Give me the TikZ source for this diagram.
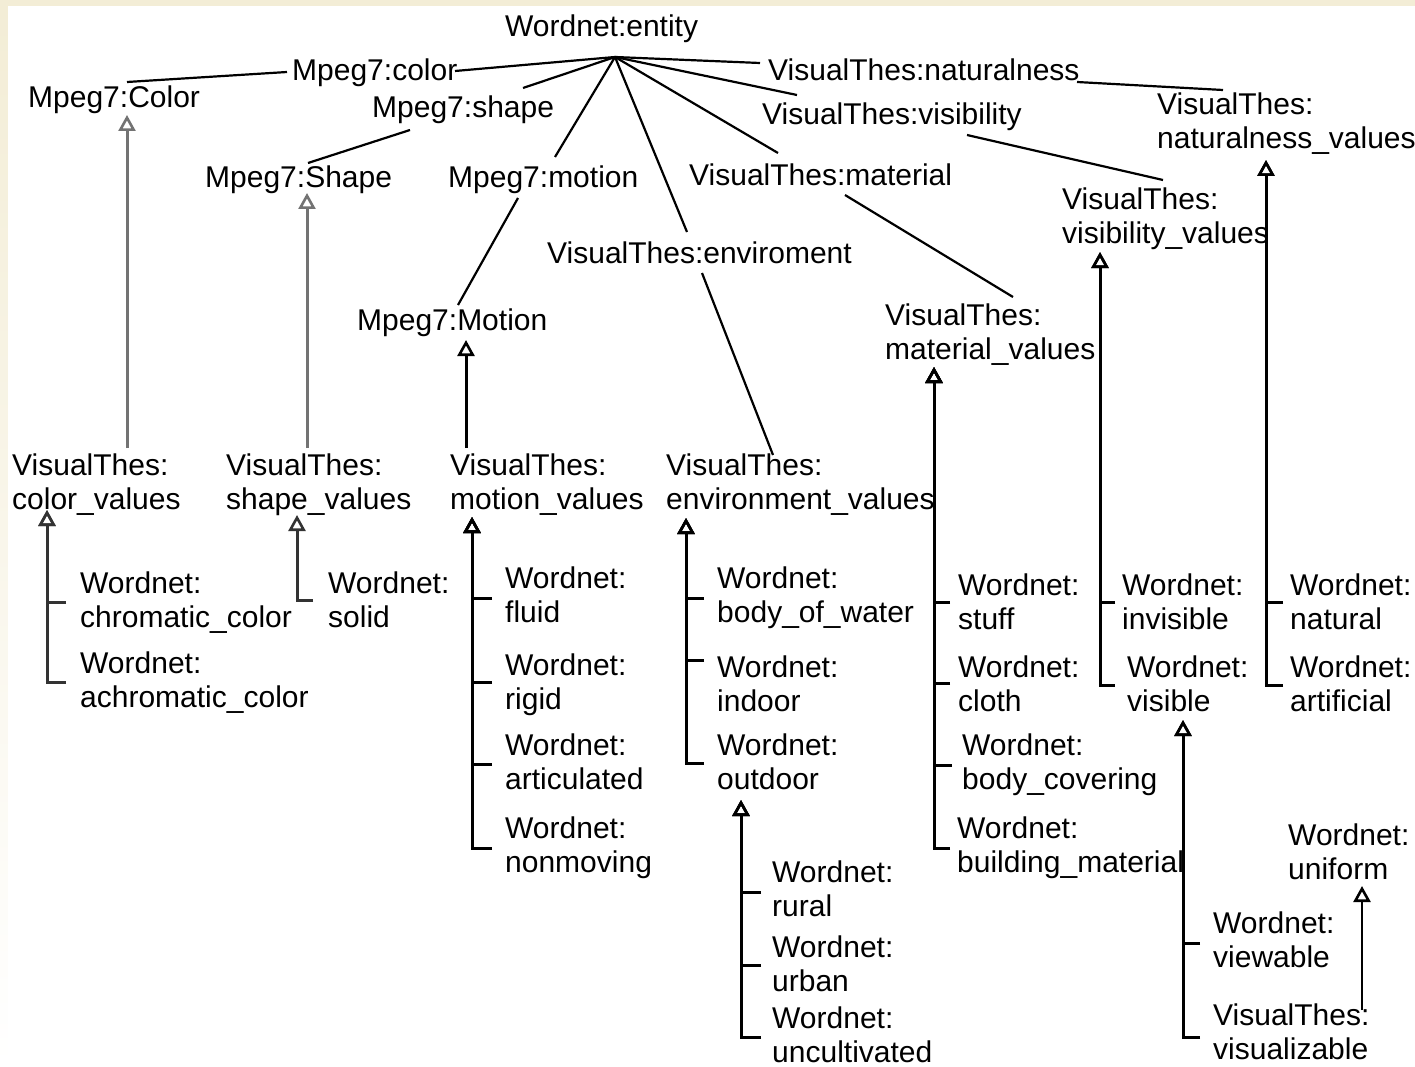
\documentclass[tikz,border=0pt]{standalone}
\usepackage{fontspec}
\setmainfont{Liberation Sans}
\usetikzlibrary{arrows.meta,calc}
\definecolor{bgbeige}{RGB}{243,237,214}
\newcommand{\twoln}[2]{\vtop{\hbox{#1}\hbox{#2}}}
\begin{document}
\begin{tikzpicture}[x=1pt,y=-1pt,
  lbl/.style={anchor=base west, inner sep=0pt, font=\fontsize{30}{34}\selectfont},
  edge/.style={line width=2.2pt, draw=black},
  isa/.style={line width=3pt, -{Triangle[open,length=16pt,width=17pt,line width=2.6pt]}},
  lightisa/.style={isa, draw=black!55},
  darkisa/.style={isa, draw=black!80}]
\useasboundingbox (0,0) rectangle (1415,1067);
\fill[bgbeige] (0,0) rectangle (1415,1067);
\shade[top color=bgbeige, bottom color=white] (0,6) rectangle (8,1067);
\fill[white] (8,6) rectangle (1415,1067);

% upper level
\node[lbl] (entity) at (505,37) {Wordnet:entity};
\node[lbl] (mcolor) at (292,81) {Mpeg7:color};
\node[lbl] (mColor) at (28,108) {Mpeg7:Color};
\node[lbl] (mshape) at (372,118) {Mpeg7:shape};
\node[lbl] (mShape) at (205,188) {Mpeg7:Shape};
\node[lbl] (mmotion) at (448,188) {Mpeg7:motion};
\node[lbl] (mMotion) at (357,330) {Mpeg7:Motion};
\node[lbl] (venv) at (547,263) {VisualThes:enviroment};
\node[lbl] (vmat) at (689,186) {VisualThes:material};
\node[lbl] (vvis) at (762,125) {VisualThes:visibility};
\node[lbl] (vnat) at (768,81) {VisualThes:naturalness};
\node[lbl] (vnatv) at (1157,115) {\twoln{VisualThes:}{naturalness\_values}};
\node[lbl] (vvisv) at (1062,210) {\twoln{VisualThes:}{visibility\_values}};
\node[lbl] (vmatv) at (885,325) {\twoln{VisualThes:}{material\_values}};
\node[lbl] (cv) at (12,475) {\twoln{VisualThes:}{color\_values}};
\node[lbl] (sv) at (226,475) {\twoln{VisualThes:}{shape\_values}};
\node[lbl] (mv) at (450,475) {\twoln{VisualThes:}{motion\_values}};
\node[lbl] (ev) at (666,475) {\twoln{VisualThes:}{environment\_values}};

% lower level
\node[lbl] (chrom) at (80,593) {\twoln{Wordnet:}{chromatic\_color}};
\node[lbl] (achrom) at (80,673) {\twoln{Wordnet:}{achromatic\_color}};
\node[lbl] (solid) at (328,593) {\twoln{Wordnet:}{solid}};
\node[lbl] (fluid) at (505,588) {\twoln{Wordnet:}{fluid}};
\node[lbl] (rigid) at (505,675) {\twoln{Wordnet:}{rigid}};
\node[lbl] (artic) at (505,755) {\twoln{Wordnet:}{articulated}};
\node[lbl] (nonmov) at (505,838) {\twoln{Wordnet:}{nonmoving}};
\node[lbl] (water) at (717,588) {\twoln{Wordnet:}{body\_of\_water}};
\node[lbl] (indoor) at (717,677) {\twoln{Wordnet:}{indoor}};
\node[lbl] (outdoor) at (717,755) {\twoln{Wordnet:}{outdoor}};
\node[lbl] (rural) at (772,882) {\twoln{Wordnet:}{rural}};
\node[lbl] (urban) at (772,957) {\twoln{Wordnet:}{urban}};
\node[lbl] (uncult) at (772,1028) {\twoln{Wordnet:}{uncultivated}};
\node[lbl] (stuff) at (958,595) {\twoln{Wordnet:}{stuff}};
\node[lbl] (cloth) at (958,677) {\twoln{Wordnet:}{cloth}};
\node[lbl] (bodycov) at (962,755) {\twoln{Wordnet:}{body\_covering}};
\node[lbl] (build) at (957,838) {\twoln{Wordnet:}{building\_material}};
\node[lbl] (invis) at (1122,595) {\twoln{Wordnet:}{invisible}};
\node[lbl] (visible) at (1127,677) {\twoln{Wordnet:}{visible}};
\node[lbl] (natural) at (1290,595) {\twoln{Wordnet:}{natural}};
\node[lbl] (artif) at (1290,677) {\twoln{Wordnet:}{artificial}};
\node[lbl] (viewable) at (1213,933) {\twoln{Wordnet:}{viewable}};
\node[lbl] (visualiz) at (1213,1025) {\twoln{VisualThes:}{visualizable}};
\node[lbl] (uniform) at (1288,845) {\twoln{Wordnet:}{uniform}};

% plain edges
\coordinate (hub) at ([shift={(110,20)}]entity.base west);
\draw[edge] (hub) -- ([shift={(163,-10)}]mcolor.base west);
\draw[edge] ([shift={(-5,-9)}]mcolor.base west) -- ([shift={(99,-26)}]mColor.base west);
\draw[edge] (hub) -- ([shift={(151,-30)}]mshape.base west);
\draw[edge] ([shift={(38,12)}]mshape.base west) -- ([shift={(103,-25)}]mShape.base west);
\draw[edge] (hub) -- ([shift={(107,-31)}]mmotion.base west);
\draw[edge] ([shift={(70,10)}]mmotion.base west) -- ([shift={(101,-25)}]mMotion.base west);
\draw[edge] (hub) -- ([shift={(140,-31)}]venv.base west);
\draw[edge] ([shift={(155,10)}]venv.base west) -- ([shift={(107,-20)}]ev.base west);
\draw[edge] (hub) -- ([shift={(89,-33)}]vmat.base west);
\draw[edge] ([shift={(156,9)}]vmat.base west) -- ([shift={(128,-28)}]vmatv.base west);
\draw[edge] (hub) -- ([shift={(35,-30)}]vvis.base west);
\draw[edge] ([shift={(205,10)}]vvis.base west) -- ([shift={(101,-30)}]vvisv.base west);
\draw[edge] (hub) -- ([shift={(-8,-18)}]vnat.base west);
\draw[edge] ([shift={(309,1)}]vnat.base west) -- ([shift={(66,-25)}]vnatv.base west);

% is-a arrows
\draw[lightisa] ([shift={(115,-27)}]cv.base west) -- ([shift={(99,7)}]mColor.base west);
\draw[lightisa] ([shift={(81,-27)}]sv.base west) -- ([shift={(102,5)}]mShape.base west);
\draw[isa] ([shift={(16,-27)}]mv.base west) -- ([shift={(109,10)}]mMotion.base west);

\draw[darkisa] ([shift={(-14,9)}]chrom.base west) -| ([shift={(35,35)}]cv.base west);
\draw[darkisa] ([shift={(-14,9)}]achrom.base west) -| ([shift={(35,35)}]cv.base west);
\draw[darkisa] ([shift={(-15,7)}]solid.base west) -| ([shift={(71,40)}]sv.base west);

\draw[isa] ([shift={(-13,10)}]fluid.base west) -| ([shift={(22,42)}]mv.base west);
\draw[isa] ([shift={(-13,7)}]rigid.base west) -| ([shift={(22,42)}]mv.base west);
\draw[isa] ([shift={(-13,9)}]artic.base west) -| ([shift={(22,42)}]mv.base west);
\draw[isa] ([shift={(-13,10)}]nonmov.base west) -| ([shift={(22,42)}]mv.base west);

\draw[isa] ([shift={(-13,10)}]water.base west) -| ([shift={(20,43)}]ev.base west);
\draw[isa] ([shift={(-13,-17)}]indoor.base west) -| ([shift={(20,43)}]ev.base west);
\draw[isa] ([shift={(-13,8)}]outdoor.base west) -| ([shift={(20,43)}]ev.base west);

\draw[isa] ([shift={(-11,10)}]rural.base west) -| ([shift={(24,45)}]outdoor.base west);
\draw[isa] ([shift={(-11,8)}]urban.base west) -| ([shift={(24,45)}]outdoor.base west);
\draw[isa] ([shift={(-11,9)}]uncult.base west) -| ([shift={(24,45)}]outdoor.base west);

\draw[isa] ([shift={(-8,7)}]stuff.base west) -| ([shift={(49,42)}]vmatv.base west);
\draw[isa] ([shift={(-8,6)}]cloth.base west) -| ([shift={(49,42)}]vmatv.base west);
\draw[isa] ([shift={(-10,10)}]bodycov.base west) -| ([shift={(49,42)}]vmatv.base west);
\draw[isa] ([shift={(-7,10)}]build.base west) -| ([shift={(49,42)}]vmatv.base west);

\draw[isa] ([shift={(-7,7)}]invis.base west) -| ([shift={(38,42)}]vvisv.base west);
\draw[isa] ([shift={(-12,8)}]visible.base west) -| ([shift={(38,42)}]vvisv.base west);

\draw[isa] ([shift={(-7,7)}]natural.base west) -| ([shift={(109,45)}]vnatv.base west);
\draw[isa] ([shift={(-7,8)}]artif.base west) -| ([shift={(109,45)}]vnatv.base west);

\draw[isa] ([shift={(-13,10)}]viewable.base west) -| ([shift={(56,43)}]visible.base west);
\draw[isa] ([shift={(-13,12)}]visualiz.base west) -| ([shift={(56,43)}]visible.base west);

\draw[isa, line width=2.2pt] ([shift={(149,-15)}]visualiz.base west) -- ([shift={(74,41)}]uniform.base west);
\end{tikzpicture}
\end{document}
